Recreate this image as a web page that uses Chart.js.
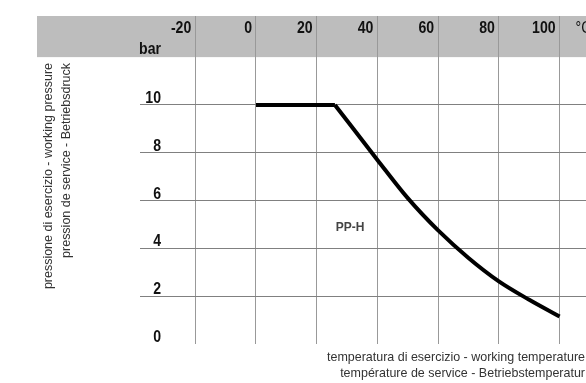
<!DOCTYPE html>
<html>
<head>
<meta charset="utf-8">
<script src="https://cdn.jsdelivr.net/npm/chart.js@4"></script>
<style>
  body { margin: 0; background: #fff; }
  canvas { display: block; }
</style>
</head>
<body>
<canvas id="chart" width="586" height="383"></canvas>
<script>
// values
const plateauTemps = [0, 26];
const plateauPressures = [10, 10];
const decayTemps = [26, 40, 50, 60, 70, 80, 90, 100];
const decayPressures = [10, 7.7, 6.1, 4.75, 3.6, 2.62, 1.85, 1.15];
const xTicks = [-20, 0, 20, 40, 60, 80, 100];
const yTicks = [0, 2, 4, 6, 8, 10];
const seriesLabel = 'PP-H';
const xTitle = ['temperatura di esercizio - working temperature', 'température de service - Betriebstemperatur'];
const yTitle = ['pressione di esercizio - working pressure', 'pression de service - Betriebsdruck'];

const sans = '"Liberation Sans", Arial, sans-serif';

// no narrow face installed, so squeeze Liberation Sans horizontally
function narrowText(ctx, text, x, y, align, font, sx) {
  ctx.save();
  ctx.font = font;
  ctx.textAlign = align;
  ctx.translate(x, y);
  ctx.scale(sx, 1);
  ctx.fillText(text, 0, 0);
  ctx.restore();
}

const headerBand = {
  id: 'headerBand',
  beforeDraw(chart) {
    const { ctx, scales: { y }, chartArea } = chart;
    const top = chartArea.top;
    const bottom = y.getPixelForValue(12);
    ctx.save();
    ctx.fillStyle = '#bdbdbd';
    ctx.fillRect(37, top, chart.width - 37, bottom - top);
    ctx.restore();
  },
};

const labels = {
  id: 'labels',
  afterDraw(chart) {
    const { ctx, scales: { x, y } } = chart;
    ctx.save();
    ctx.fillStyle = '#111';
    ctx.textBaseline = 'alphabetic';

    const tickFont = 'bold 16px ' + sans;
    xTicks.forEach((v) => {
      narrowText(ctx, String(v), x.getPixelForValue(v) - 4, 33, 'right', tickFont, 0.88);
    });
    narrowText(ctx, '°C', x.getPixelForValue(100) + 16, 33, 'left', '16px ' + sans, 0.88);

    narrowText(ctx, 'bar', 161, 54, 'right', tickFont, 0.88);
    yTicks.forEach((v) => {
      narrowText(ctx, String(v), 161, y.getPixelForValue(v) - 2, 'right', tickFont, 0.88);
    });

    ctx.fillStyle = '#444';
    narrowText(ctx, seriesLabel, x.getPixelForValue(26.3), y.getPixelForValue(4.72), 'left', 'bold 12px ' + sans, 1);

    ctx.fillStyle = '#333';
    const titleFont = '13px ' + sans;
    narrowText(ctx, xTitle[0], 585, 361, 'right', titleFont, 0.96);
    narrowText(ctx, xTitle[1], 585, 377, 'right', titleFont, 0.96);

    ctx.save();
    ctx.rotate(-Math.PI / 2);
    narrowText(ctx, yTitle[0], -63, 52, 'right', titleFont, 0.96);
    narrowText(ctx, yTitle[1], -63, 70, 'right', titleFont, 0.96);
    ctx.restore();
    ctx.restore();
  },
};

const lineStyle = {
  borderColor: '#000',
  borderWidth: 4,
  pointRadius: 0,
  borderJoinStyle: 'round',
  fill: false,
};

new Chart(document.getElementById('chart'), {
  type: 'line',
  data: {
    datasets: [
      {
        ...lineStyle,
        label: seriesLabel,
        data: plateauTemps.map((t, i) => ({ x: t, y: plateauPressures[i] })),
        tension: 0,
      },
      {
        ...lineStyle,
        label: seriesLabel,
        data: decayTemps.map((t, i) => ({ x: t, y: decayPressures[i] })),
        cubicInterpolationMode: 'monotone',
      },
    ],
  },
  options: {
    responsive: false,
    animation: false,
    layout: { padding: { left: 140, top: 16, right: 0, bottom: 39 } },
    plugins: { legend: { display: false }, tooltip: { enabled: false } },
    scales: {
      x: {
        type: 'linear',
        min: -38.2,
        max: 108.7,
        afterBuildTicks: (axis) => {
          axis.ticks = xTicks.map((v) => ({ value: v }));
        },
        ticks: { display: false },
        border: { display: false },
        grid: { color: '#999', lineWidth: 1, drawTicks: false },
      },
      y: {
        type: 'linear',
        min: 0,
        max: 13.72,
        afterBuildTicks: (axis) => {
          axis.ticks = yTicks.map((v) => ({ value: v }));
        },
        ticks: { display: false },
        border: { display: false },
        grid: {
          color: (c) => (c.tick && c.tick.value === 0 ? 'rgba(0,0,0,0)' : '#808080'),
          lineWidth: 1,
          drawTicks: false,
        },
      },
    },
  },
  plugins: [headerBand, labels],
});
</script>
</body>
</html>
